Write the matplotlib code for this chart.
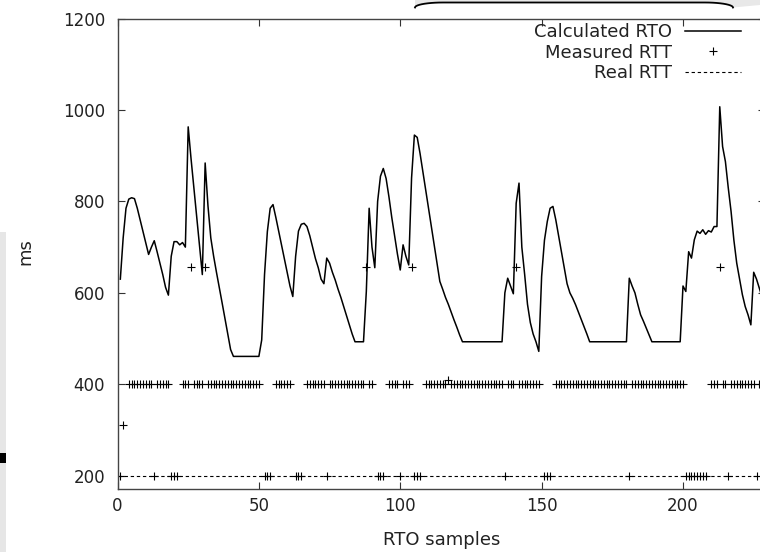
import matplotlib
matplotlib.use("Agg")
import matplotlib.pyplot as plt
import numpy as np
from matplotlib.lines import Line2D
from matplotlib.patches import Rectangle, Polygon
from matplotlib.transforms import IdentityTransform

plt.rcParams['font.family'] = ['DejaVu Sans']

# calculated RTO, one value per sample (samples 1..228)
rto_x = list(range(1, 229))
rto = [630, 720, 785, 805, 808, 806, 785, 760, 735, 710,
       684, 700, 714, 690, 665, 640, 612, 595, 680, 712,
       712, 705, 710, 700, 963, 894, 830, 765, 700, 640,
       884, 790, 720, 680, 645, 612, 578, 544, 510, 476,
       461, 461, 461, 461, 461, 461, 461, 461, 461, 461,
       497, 640, 734, 785, 793, 765, 735, 705, 675, 645,
       615, 592, 680, 735, 750, 752, 745, 725, 700, 675,
       655, 630, 620, 676, 665, 645, 628, 608, 590, 570,
       550, 530, 510, 493, 493, 493, 493, 603, 785, 700,
       655, 800, 855, 872, 850, 810, 765, 725, 685, 650,
       705, 680, 661, 851, 945, 940, 905, 865, 825, 785,
       745, 705, 665, 625, 608, 590, 575, 558, 541, 525,
       508, 493, 493, 493, 493, 493, 493, 493, 493, 493,
       493, 493, 493, 493, 493, 493, 600, 632, 615, 598,
       796, 840, 700, 640, 575, 535, 510, 493, 472, 636,
       715, 756, 785, 789, 760, 725, 690, 655, 620, 600,
       588, 574, 558, 542, 526, 510, 493, 493, 493, 493,
       493, 493, 493, 493, 493, 493, 493, 493, 493, 493,
       632, 615, 600, 575, 552, 538, 523, 508, 493, 493,
       493, 493, 493, 493, 493, 493, 493, 493, 493, 615,
       603, 690, 676, 716, 735, 730, 738, 728, 736, 733,
       745, 745, 1007, 920, 887, 830, 778, 715, 665, 630,
       596, 570, 552, 530, 645, 630, 610, 590]

# measured RTT, sample positions grouped by measured value
rtt_400_x = [4, 5, 6, 7, 8, 9, 10, 11, 12, 14, 15, 16, 17, 18,
             23, 24, 25, 27, 28, 29, 30, 32, 33, 34, 35, 36, 37, 38, 39, 40,
             41, 42, 43, 44, 45, 46, 47, 48, 49, 50,
             56, 57, 58, 59, 60, 61,
             67, 68, 69, 70, 71, 72, 73, 75, 76, 77, 78, 79, 80, 81, 82, 83,
             84, 85, 86, 87, 89, 90,
             96, 97, 98, 99, 101, 102, 103,
             109, 110, 111, 112, 113, 114, 115, 116, 118, 119, 120, 121, 122,
             123, 124, 125, 126, 127, 128, 129, 130, 131, 132, 133, 134, 135,
             136, 138, 139, 140, 142, 143, 144, 145, 146, 147, 148, 149,
             155, 156, 157, 158, 159, 160, 161, 162, 163, 164, 165, 166, 167,
             168, 169, 170, 171, 172, 173, 174, 175, 176, 177, 178, 179, 180,
             182, 183, 184, 185, 186, 187, 188, 189, 190, 191, 192, 193, 194,
             195, 196, 197, 198, 199, 200,
             210, 211, 212, 214, 215, 217, 218, 219, 220, 221, 222, 223, 224,
             225, 227, 228]
rtt_200_x = [1, 13, 19, 20, 21, 52, 53, 54, 63, 64, 65, 74, 92, 93, 94,
             100, 105, 106, 107, 137, 151, 152, 153, 181,
             201, 202, 203, 204, 205, 206, 207, 208, 216, 226]
rtt_660_x = [26, 31, 88, 104, 141, 213]
rtt_other_x = [2, 117]
rtt_other = [310, 410]

# real RTT
real_x = [0, 229]
real_rtt = [200, 200]

rtt_x = rtt_400_x + rtt_200_x + rtt_660_x + rtt_other_x
rtt = ([400] * len(rtt_400_x) + [200] * len(rtt_200_x)
       + [657] * len(rtt_660_x) + rtt_other)

fig = plt.figure(figsize=(7.6, 5.52), dpi=100)
# the plot is cropped on the right, so the axes runs past the figure edge
ax = fig.add_axes([117.5 / 760, 1 - 489 / 552, 647.5 / 760, 470.5 / 552])

ax.plot(rto_x, rto, color='black', lw=1.1, label='Calculated RTO')
ax.plot(rtt_x, rtt, ls='none', marker='+', ms=6, mew=0.8, color='black',
        label='Measured RTT')
ax.plot(real_x, real_rtt, color='black', lw=0.8, ls=(0, (3, 2.5)),
        label='Real RTT')

ax.set_xlim(0, 229)
ax.set_ylim(171, 1200)
ax.set_xticks([0, 50, 100, 150, 200])
ax.set_yticks([200, 400, 600, 800, 1000, 1200])

for s in ax.spines.values():
    s.set_color('#444444')
    s.set_linewidth(1.0)
ax.tick_params(direction='in', length=5, width=0.8, color='#333333',
               top=True, right=True, labelsize=12, labelcolor='#222222')
ax.tick_params(axis='y', pad=9)
ax.tick_params(axis='x', pad=6)

ax.set_xlabel('RTO samples', fontsize=13, color='#222222', labelpad=11)
fig.text(25 / 760, 1 - 252 / 552, 'ms', rotation=90, ha='center',
         va='center', fontsize=13, color='#222222')

leg = ax.legend(loc='upper right', bbox_to_anchor=(741 / 760, 1 - 23 / 552),
                bbox_transform=fig.transFigure, frameon=False,
                markerfirst=False, fontsize=13, handlelength=3.1,
                handletextpad=0.7, labelspacing=0.15, borderpad=0,
                borderaxespad=0)
for t in leg.get_texts():
    t.set_color('#222222')

# page leftovers around the crop
idt = IdentityTransform()
fig.add_artist(Rectangle((0, 0), 6, 552 - 232, transform=idt,
                         facecolor='#e6e6e6', edgecolor='none'))
fig.add_artist(Rectangle((0, 552 - 463), 6, 10, transform=idt,
                         facecolor='black', edgecolor='none'))
t = np.linspace(0, np.pi / 2, 12)
left_x = 415 + 28 * (1 - np.cos(t))
left_y = 552 - 2.5 - 5 * (1 - np.sin(t))
right_x = 733 - 28 * (1 - np.cos(t[::-1]))
right_y = 552 - 2.5 - 5 * (1 - np.sin(t[::-1]))
arch_x = np.concatenate([left_x, right_x])
arch_y = np.concatenate([left_y, right_y])
grey = Polygon(np.column_stack([np.concatenate([arch_x, [760, 760, 415]]),
                                np.concatenate([arch_y, [547, 553, 553]])]),
               closed=True, transform=idt, facecolor='#e8e8e8', edgecolor='none')
fig.add_artist(grey)
fig.add_artist(Line2D(arch_x, arch_y, transform=idt, color='black', lw=1.3))

fig.savefig('out.png', dpi=100)
